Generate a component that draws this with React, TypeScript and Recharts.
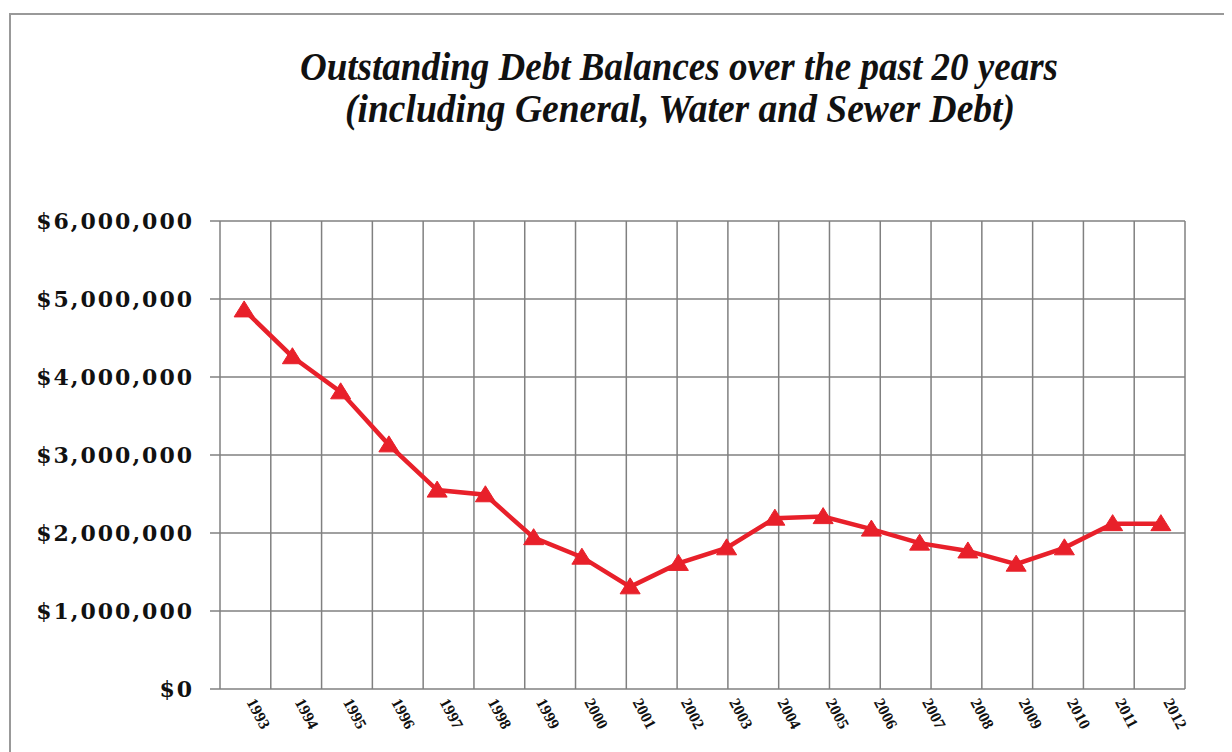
import React from "react";
import { LineChart, Line, XAxis, YAxis, CartesianGrid } from "recharts";

const YEARS = [
  "1993", "1994", "1995", "1996", "1997", "1998", "1999", "2000", "2001", "2002",
  "2003", "2004", "2005", "2006", "2007", "2008", "2009", "2010", "2011", "2012",
];

const DEBT = [
  4860000, 4260000, 3810000, 3130000, 2550000, 2490000, 1940000, 1690000, 1310000, 1610000,
  1810000, 2190000, 2210000, 2050000, 1870000, 1770000, 1600000, 1810000, 2120000, 2120000,
];

const Y_TICKS = [0, 1000000, 2000000, 3000000, 4000000, 5000000, 6000000];

// category boundaries used for the vertical grid lines
const GRID_TICKS = [0, 1, 2, 3, 4, 5, 6, 7, 8, 9, 10, 11, 12, 13, 14, 15, 16, 17, 18, 19, 20];

const TITLE_LINES = [
  "Outstanding Debt Balances over the past 20 years",
  "(including General, Water and Sewer Debt)",
];

const data = YEARS.map((year, i) => ({ year, debt: DEBT[i] }));

const SERIF = "'Liberation Serif', 'DejaVu Serif', serif";
const RED = "#e8202a";
const GRID = "#808080";

const fmtMoney = (v: number) => "$" + v.toLocaleString("en-US");

const Triangle = (props: any) => {
  const { cx, cy } = props;
  if (cx == null || cy == null) return null;
  return (
    <polygon
      points={`${cx},${cy - 9} ${cx - 10},${cy + 7} ${cx + 10},${cy + 7}`}
      fill={RED}
      stroke={RED}
      strokeWidth={1}
    />
  );
};

const YTick = (props: any) => {
  const { x, y, payload } = props;
  return (
    <text
      x={x}
      y={y}
      dy={8}
      textAnchor="end"
      fontFamily="'DejaVu Serif', serif"
      fontWeight={700}
      fontSize={22}
      letterSpacing={2}
      fill="#111"
    >
      {fmtMoney(payload.value)}
    </text>
  );
};

const XTick = (props: any) => {
  const { x, y, payload } = props;
  return (
    <text
      transform={`translate(${x + 2},${y + 13}) rotate(62)`}
      textAnchor="start"
      fontFamily={SERIF}
      fontWeight={700}
      fontSize={16}
      fill="#111"
    >
      {payload.value}
    </text>
  );
};

export default function App() {
  return (
    <div
      style={{
        position: "relative",
        width: 1232,
        height: 752,
        marginLeft: -8,
        marginTop: -8,
        background: "#fff",
        overflow: "hidden",
      }}
    >
      <div
        style={{
          position: "absolute",
          left: 9,
          top: 13,
          width: 1240,
          height: 760,
          borderTop: "2px solid #999",
          borderLeft: "2px solid #999",
        }}
      />
      <svg width={1232} height={140} style={{ position: "absolute", left: 0, top: 0 }}>
        <text
          x={300}
          y={80}
          textLength={758}
          lengthAdjust="spacingAndGlyphs"
          fontFamily={SERIF}
          fontStyle="italic"
          fontWeight={700}
          fontSize={39}
          fill="#111"
        >
          {TITLE_LINES[0]}
        </text>
        <text
          x={345}
          y={122}
          textLength={670}
          lengthAdjust="spacingAndGlyphs"
          fontFamily={SERIF}
          fontStyle="italic"
          fontWeight={700}
          fontSize={39}
          fill="#111"
        >
          {TITLE_LINES[1]}
        </text>
      </svg>
      <div style={{ position: "absolute", left: 0, top: 0 }}>
        <LineChart
          width={1232}
          height={752}
          data={data}
          margin={{ top: 221, right: 47, left: 20, bottom: 0 }}
        >
          <CartesianGrid xAxisId="grid" stroke={GRID} strokeWidth={1.5} />
          <XAxis
            xAxisId="grid"
            type="number"
            domain={[0, 20]}
            ticks={GRID_TICKS}
            hide
          />
          <XAxis
            dataKey="year"
            scale="band"
            height={63}
            axisLine={false}
            tickLine={false}
            tickSize={0}
            tickMargin={0}
            interval={0}
            tick={<XTick />}
          />
          <YAxis
            width={200}
            domain={[0, 6000000]}
            ticks={Y_TICKS}
            axisLine={false}
            tickSize={10}
            tickMargin={16}
            tickLine={{ stroke: GRID, strokeWidth: 1.5 }}
            tick={<YTick />}
          />
          <Line
            dataKey="debt"
            stroke={RED}
            strokeWidth={4.5}
            dot={<Triangle />}
            activeDot={false}
            isAnimationActive={false}
          />
        </LineChart>
      </div>
    </div>
  );
}
